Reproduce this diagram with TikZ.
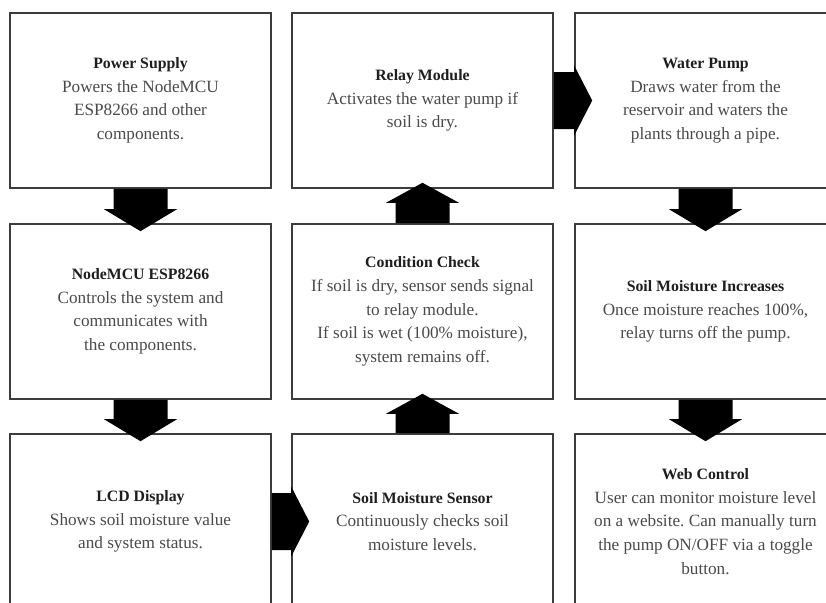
\documentclass[tikz,border=0pt]{standalone}
\usepackage{fontspec}
\setmainfont{Liberation Serif}
\usetikzlibrary{calc}
\frenchspacing
\definecolor{bodytxt}{HTML}{4A4A4A}
\definecolor{titletxt}{HTML}{1E1E1E}
\definecolor{boxline}{HTML}{3C3C3C}
\tikzset{
  box/.style={draw=boxline, line width=1.6pt, fill=white, minimum width=261pt, minimum height=175pt,
    inner sep=0pt, align=center, text=bodytxt, font=\fontsize{17.2}{23.6}\selectfont},
  arrowfill/.style={fill=black}
}
\newcommand\ttl[1]{{\fontsize{15.8}{23.6}\selectfont\bfseries\color{titletxt}#1}}
\newcommand\blockdown[2]{\fill[arrowfill] ($(#1.south)+(-27,0)$) -- ($(#1.south)+(27,0)$) -- ($(#2.north)+(27,-14)$) -- ($(#2.north)+(36.5,-14)$) -- ($(#2.north)+(0,8)$) -- ($(#2.north)+(-36.5,-14)$) -- ($(#2.north)+(-27,-14)$) -- cycle;}
\newcommand\blockup[2]{\fill[arrowfill] ($(#1.north)+(-27,0)$) -- ($(#1.north)+(27,0)$) -- ($(#2.south)+(27,14)$) -- ($(#2.south)+(36.5,14)$) -- ($(#2.south)+(0,-6)$) -- ($(#2.south)+(-36.5,14)$) -- ($(#2.south)+(-27,14)$) -- cycle;}
\newcommand\blockright[2]{\fill[arrowfill] ($(#1.east)+(0,-28.5)$) -- ($(#1.east)+(0,28.5)$) -- ($(#2.west)+(0,28.5)$) -- ($(#2.west)+(0,35)$) -- ($(#2.west)+(18,0)$) -- ($(#2.west)+(0,-35)$) -- ($(#2.west)+(0,-28.5)$) -- cycle;}
\begin{document}
\begin{tikzpicture}[x=1pt,y=-1pt]
\path[use as bounding box, clip] (0,0) rectangle (826,602);
\fill[white] (0,0) rectangle (826,602);
% row 1
\node[box] (ps) at (140.5,100.5) {\ttl{Power Supply}\\Powers the NodeMCU\\ESP8266 and other\\components.};
\node[box] (rm) at (422.5,100.5) {\ttl{Relay Module}\\Activates the water pump if\\soil is dry.};
\node[box] (wp) at (705.5,100.5) {\ttl{Water Pump}\\Draws water from the\\reservoir and waters the\\plants through a pipe.};
% row 2
\node[box] (nm) at (140.5,311.5) {\ttl{NodeMCU ESP8266}\\Controls the system and\\communicates with\\the components.};
\node[box] (cc) at (422.5,311.5) {\ttl{Condition Check}\\If soil is dry, sensor sends signal\\to relay module.\\If soil is wet (100\% moisture),\\system remains off.};
\node[box] (smi) at (705.5,311.5) {\ttl{Soil Moisture Increases}\\Once moisture reaches 100\%,\\relay turns off the pump.};
% row 3
\node[box] (lcd) at (140.5,521.5) {\ttl{LCD Display}\\Shows soil moisture value\\and system status.};
\node[box] (sms) at (422.5,521.5) {\ttl{Soil Moisture Sensor}\\Continuously checks soil\\moisture levels.};
\node[box] (wc) at (705.5,521.5) {\ttl{Web Control}\\User can monitor moisture level\\on a website. Can manually turn\\the pump ON/OFF via a toggle\\button.};
% arrows
\blockdown{ps}{nm}
\blockdown{nm}{lcd}
\blockright{lcd}{sms}
\blockup{sms}{cc}
\blockup{cc}{rm}
\blockright{rm}{wp}
\blockdown{wp}{smi}
\blockdown{smi}{wc}
\end{tikzpicture}
\end{document}
